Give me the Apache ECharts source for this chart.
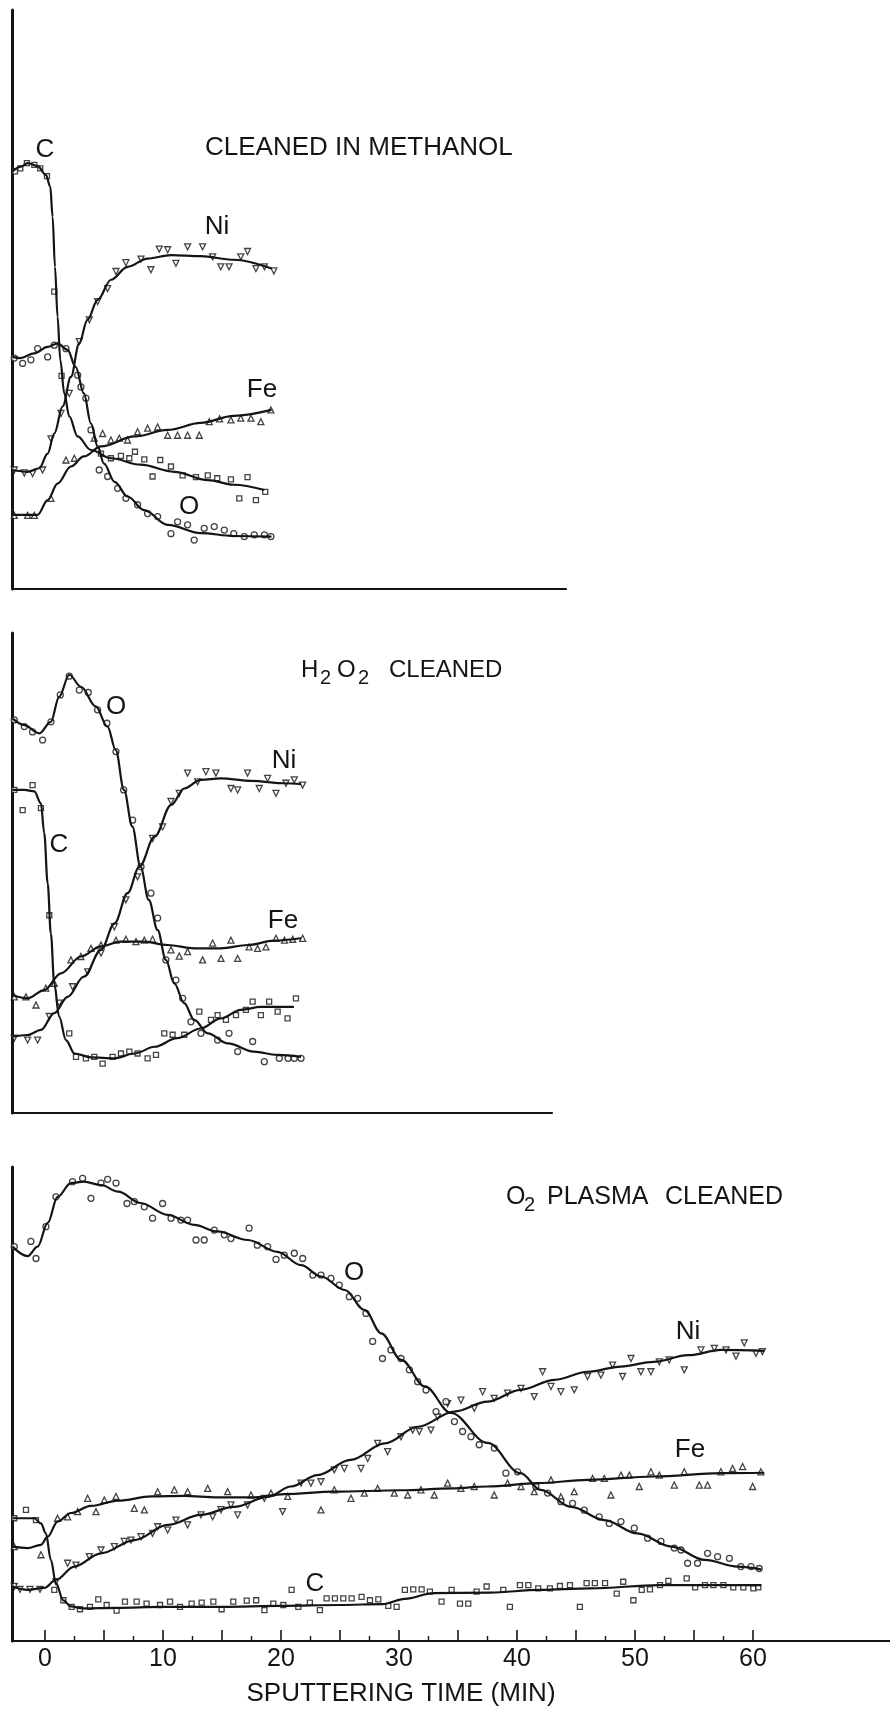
<!DOCTYPE html>
<html><head><meta charset="utf-8">
<script src="https://cdn.jsdelivr.net/npm/echarts@6/dist/echarts.min.js"></script>
<style>html,body{margin:0;padding:0;background:#fff}#c{width:890px;height:1710px}</style>
</head><body><div id="c"></div>
<script>
// ---------- tick values (bottom panel) ----------
const majorTicks = [0,5,10,15,20,25,30,35,40,45,50,55,60];
const minorTicks = [2.5,7.5,12.5,17.5,22.5,27.5,32.5,37.5,42.5,47.5,52.5,57.5];
const tickLabels = [0,10,20,30,40,50,60];

// ---------- Panel 1: cleaned in methanol (time min, intensity a.u.) ----------
const p1C = [[-2.75,70.9],[-2.03,71.7],[-1.47,72.3],[-0.62,71.8],[0.08,70.3],[0.45,68.3],[0.65,63.2],[0.85,54.7],[1.07,46.2],[1.3,38.9],[1.64,33.2],[2.06,29.3],[2.77,25.9],[3.9,23.6],[5.6,22.2],[8.1,21.1],[10.96,19.9],[13.8,18.5],[16.0,17.7],[18.6,16.8]];
const p1Ni = [[-2.75,20.2],[-1.47,19.9],[-0.48,20.5],[0.23,23.0],[0.79,26.4],[1.5,31.0],[2.2,36.0],[2.9,41.7],[3.6,45.7],[4.47,49.1],[5.6,52.5],[7.0,54.7],[8.7,56.1],[10.7,56.7],[13.2,56.5],[16.0,55.9],[19.2,54.4]];
const p1Fe = [[-2.75,12.6],[-1.75,12.6],[-0.62,12.6],[0.23,15.1],[1.07,17.9],[2.2,20.8],[3.3,22.5],[4.75,24.2],[7.6,25.9],[10.4,27.0],[13.2,28.2],[16.0,29.4],[19.2,30.4]];
const p1O = [[-2.75,39.4],[-2.1,39.2],[-0.9,40.0],[0.23,41.1],[1.07,41.7],[1.92,40.6],[2.6,37.7],[3.3,33.2],[3.9,28.1],[4.47,24.2],[5.0,21.3],[5.9,18.2],[7.0,15.7],[8.4,13.4],[10.4,10.9],[13.2,9.5],[16.0,9.0],[19.2,8.9]];
const p1CPts = [[-2.54,70.9],[-2.09,71.4],[-1.53,72.3],[-0.9,72.0],[-0.4,71.4],[0.17,70.1],[0.79,50.5],[1.41,36.2],[4.75,23.0],[5.59,22.2],[6.44,22.6],[7.15,22.2],[7.63,23.3],[8.42,22.0],[9.12,19.1],[9.77,21.9],[10.68,20.8],[11.67,19.3],[12.8,19.0],[13.8,19.3],[14.6,18.8],[15.76,18.6],[17.17,19.0],[16.47,15.4],[17.88,15.1],[18.67,16.5]];
const p1NiPts = [[-2.6,20.2],[-1.75,19.7],[-1.05,19.6],[-0.2,20.2],[0.51,25.5],[1.36,29.8],[2.06,33.2],[2.91,42.0],[3.76,45.7],[4.46,48.8],[5.31,51.0],[6.02,53.9],[6.86,55.4],[8.14,56.0],[8.98,54.2],[9.69,57.7],[10.4,57.6],[11.1,55.3],[12.09,58.1],[13.36,58.1],[14.21,56.4],[14.9,54.7],[15.6,54.7],[16.6,56.4],[17.17,57.3],[17.88,54.4],[18.6,54.7],[19.4,54.0]];
const p1FePts = [[-2.6,12.5],[-1.47,12.5],[-0.9,12.5],[0.51,15.4],[1.78,21.9],[2.49,22.2],[4.18,25.6],[4.89,26.4],[5.59,25.3],[6.3,25.6],[7.0,25.3],[7.85,26.7],[8.7,27.3],[9.55,27.5],[10.4,26.1],[11.24,26.1],[12.09,26.1],[13.08,26.1],[13.93,28.4],[14.8,28.9],[15.76,28.7],[16.6,29.0],[17.46,29.0],[18.3,28.4],[19.15,30.4]];
const p1OPts = [[-2.6,39.2],[-1.89,38.3],[-1.19,38.9],[-0.62,40.8],[0.23,39.4],[0.79,41.4],[1.78,40.8],[2.77,36.3],[3.05,34.3],[3.47,32.4],[3.9,27.0],[4.6,20.2],[5.31,19.1],[6.16,17.1],[6.86,15.4],[7.85,14.3],[8.7,12.8],[9.55,12.3],[10.68,9.4],[11.24,11.4],[12.09,10.9],[12.65,8.3],[13.5,10.3],[14.35,10.6],[15.2,10.0],[16.0,9.4],[16.9,8.9],[17.74,9.2],[18.6,9.2],[19.15,8.9]];

// ---------- Panel 2: H2O2 cleaned ----------
const p2O = [[-2.75,82.2],[-1.75,80.8],[-0.48,79.1],[0.5,81.5],[1.2,86.7],[2.06,91.3],[3.05,88.8],[4.3,84.7],[5.3,80.5],[6.0,75.6],[6.7,67.3],[7.4,59.7],[8.1,51.3],[8.8,44.4],[9.55,38.1],[10.25,31.9],[10.96,27.0],[11.8,22.9],[12.65,19.4],[13.8,16.6],[15.5,14.5],[17.7,12.8],[19.7,12.1],[21.7,11.7]];
const p2Ni = [[-2.75,15.9],[-1.47,16.25],[-0.34,17.3],[0.79,20.8],[1.92,24.2],[3.3,28.4],[4.75,34.0],[5.9,39.5],[7.0,45.8],[8.0,51.3],[9.3,57.6],[10.7,64.2],[11.8,67.6],[13.2,69.4],[14.9,69.7],[17.5,69.2],[20.3,68.7],[21.7,68.5]];
const p2Fe = [[-2.75,24.6],[-1.47,23.9],[-0.06,25.6],[1.36,29.1],[3.05,32.6],[4.75,34.7],[6.4,35.7],[8.4,35.7],[10.4,35.0],[12.65,34.3],[14.9,34.3],[17.2,35.0],[19.4,35.9],[21.7,36.4]];
const p2C = [[-2.75,67.3],[-1.75,67.3],[-0.9,67.0],[-0.34,64.5],[-0.06,58.3],[0.23,47.85],[0.5,37.4],[0.79,27.0],[1.2,20.1],[1.78,15.2],[2.5,12.4],[3.9,11.6],[5.9,11.4],[7.6,12.4],[9.3,13.8],[11.2,15.6],[13.2,17.6],[14.9,19.7],[16.6,21.5],[18.3,22.1],[21.1,22.1]];
const p2OPts = [[-2.6,81.9],[-1.75,80.5],[-1.05,79.4],[-0.2,77.7],[0.51,81.5],[1.3,87.1],[2.06,91.0],[2.91,88.1],[3.67,87.6],[4.46,84.0],[5.25,81.2],[6.02,75.3],[6.67,67.3],[7.43,61.0],[8.14,51.3],[8.98,45.8],[9.55,40.6],[10.25,31.9],[11.1,27.7],[11.67,23.9],[12.37,19.0],[13.22,16.6],[14.63,15.2],[15.6,16.6],[16.33,12.8],[17.6,14.9],[18.59,10.7],[19.86,11.4],[20.6,11.4],[21.13,11.4],[21.7,11.4]];
const p2NiPts = [[-2.6,15.6],[-1.47,15.2],[-0.62,15.2],[0.37,20.1],[1.21,22.9],[2.34,26.3],[3.62,29.4],[4.75,33.3],[5.88,38.8],[6.86,44.4],[7.85,49.2],[9.12,57.2],[9.97,59.6],[10.68,64.9],[11.38,66.6],[12.09,70.8],[12.94,69.0],[13.64,71.1],[14.49,70.8],[15.76,67.6],[16.33,67.3],[17.17,70.8],[18.16,67.6],[18.87,69.7],[19.58,66.6],[20.42,68.7],[21.13,69.4],[21.84,68.3]];
const p2FePts = [[-2.6,24.2],[-1.61,24.2],[-0.76,22.5],[0.08,26.0],[0.79,27.0],[2.2,31.9],[3.05,32.6],[3.9,34.3],[4.75,35.0],[6.02,36.0],[6.86,36.2],[7.71,35.7],[8.42,36.0],[9.12,36.2],[10.68,34.0],[11.38,32.7],[12.09,33.6],[13.36,31.9],[14.21,35.4],[14.92,32.2],[15.76,36.0],[16.33,32.2],[17.3,34.6],[18.02,34.3],[18.73,34.6],[19.58,36.4],[20.3,36.0],[21.0,36.2],[21.84,36.4]];
const p2CPts = [[-2.6,67.3],[-1.89,63.1],[-1.05,68.3],[-0.34,63.5],[0.37,41.2],[2.06,16.6],[2.63,11.7],[3.47,11.4],[4.18,11.7],[4.89,10.3],[5.73,11.7],[6.44,12.4],[7.15,12.8],[7.85,12.4],[8.7,11.4],[9.41,12.1],[10.11,16.6],[10.82,16.3],[11.81,16.3],[13.08,21.1],[14.07,19.4],[14.63,20.4],[15.34,19.4],[16.19,20.4],[17.03,21.5],[17.6,23.2],[18.3,20.4],[19.0,23.2],[19.72,21.1],[20.56,19.7],[21.27,23.9]];

// ---------- Panel 3: O2 plasma cleaned ----------
const p3O = [[-2.75,83.2],[-1.47,81.2],[-0.62,83.2],[0.23,88.2],[1.07,93.7],[2.2,96.6],[3.3,96.9],[4.75,96.2],[6.2,94.8],[8.1,92.4],[10.4,89.9],[12.65,87.8],[14.6,86.4],[17.2,84.6],[19.7,82.1],[21.7,79.3],[23.4,76.9],[25.4,74.05],[27.1,69.8],[28.5,64.9],[30.2,59.3],[32.2,53.7],[34.4,48.1],[37.5,41.8],[40.3,35.4],[42.0,31.9],[44.6,28.3],[47.4,25.5],[50.2,22.7],[53.1,19.9],[55.9,17.1],[58.7,15.7],[60.7,15.1]];
const p3Ni = [[-2.75,11.5],[-1.47,10.8],[-0.06,11.2],[0.93,12.9],[2.48,15.7],[4.75,18.5],[7.6,21.3],[10.4,24.5],[13.2,26.6],[16.0,28.3],[18.9,30.4],[20.85,32.6],[23.1,35.0],[25.9,38.2],[28.8,41.7],[31.6,45.2],[34.7,48.4],[37.5,50.5],[40.3,53.0],[43.2,55.1],[46.0,56.8],[48.8,57.9],[51.6,58.9],[54.5,60.3],[57.3,61.4],[60.96,61.2]];
const p3Fe = [[-2.75,19.9],[-1.47,19.6],[-0.34,20.3],[0.23,22.0],[1.07,25.2],[2.2,27.0],[3.9,28.5],[6.2,29.6],[9.0,30.5],[11.8,30.6],[14.6,30.3],[17.5,30.3],[20.3,31.0],[24.5,31.5],[30.2,31.8],[34.5,32.2],[37.5,32.6],[41.75,33.3],[46.0,34.0],[51.6,34.7],[57.3,35.4],[60.96,35.5]];
const p3C = [[-2.75,25.9],[-0.9,25.9],[-0.34,24.8],[0.08,22.7],[0.5,17.1],[0.93,12.2],[1.55,8.6],[2.2,7.3],[3.2,6.9],[6,7.0],[10,7.2],[15,7.2],[20,7.4],[25,7.6],[28.6,7.8],[30.5,8.9],[32.9,10.1],[37.7,10.2],[41.9,10.8],[46.2,11.1],[52.1,11.8],[60.7,11.8]];
const p3OPts = [[-2.6,83.2],[-1.19,84.3],[-0.76,80.7],[0.08,87.4],[0.93,93.7],[2.34,96.9],[3.19,97.6],[3.9,93.4],[4.75,96.6],[5.31,97.4],[6.02,96.6],[6.95,92.3],[7.57,92.7],[8.42,91.6],[9.12,89.2],[9.97,92.3],[10.68,89.2],[11.52,88.8],[12.09,88.8],[12.8,84.6],[13.5,84.6],[14.35,86.7],[15.2,85.7],[15.76,84.9],[17.3,87.1],[18.0,83.5],[18.87,83.2],[19.58,80.5],[20.28,81.4],[21.13,81.8],[21.84,80.7],[22.7,77.2],[23.39,77.2],[24.24,76.5],[24.94,75.1],[25.79,72.65],[26.5,72.3],[27.2,69.1],[27.77,63.2],[28.6,59.6],[29.32,61.4],[30.17,59.6],[30.88,57.2],[31.58,54.7],[32.29,52.95],[33.14,48.4],[33.98,50.5],[34.7,46.3],[35.39,44.2],[36.1,43.1],[36.8,41.4],[38.08,40.7],[39.06,35.4],[40.05,35.7],[41.6,32.6],[42.6,31.2],[43.72,29.4],[44.71,29.05],[45.7,27.6],[46.97,26.2],[47.82,24.8],[48.81,25.2],[49.94,23.8],[51.07,21.7],[52.2,21.0],[53.33,19.6],[53.9,19.2],[54.46,16.4],[55.3,16.4],[56.15,18.5],[57.0,17.8],[58.0,17.45],[58.97,15.7],[59.83,15.7],[60.53,15.3]];
const p3NiPts = [[-2.6,11.5],[-2.12,10.9],[-1.27,10.9],[-0.42,10.9],[0.93,12.5],[1.92,16.4],[2.63,16.0],[3.76,17.8],[4.75,19.2],[5.88,19.9],[6.72,21.0],[7.29,21.3],[8.14,22.0],[9.12,22.7],[9.55,24.1],[10.4,23.4],[11.1,25.5],[12.09,24.5],[13.22,26.6],[14.21,26.2],[14.92,27.7],[15.76,28.7],[16.33,26.6],[17.17,28.7],[18.59,30.1],[20.14,27.3],[21.7,33.3],[22.54,33.3],[23.39,33.6],[24.52,36.1],[25.37,36.4],[26.78,36.4],[27.35,38.5],[28.19,41.7],[29.04,39.95],[30.17,43.1],[31.16,44.5],[31.72,44.2],[32.71,44.5],[33.27,47.3],[34.12,50.1],[35.25,50.8],[36.38,49.1],[37.09,52.6],[38.07,51.2],[39.2,52.3],[40.34,53.3],[41.46,51.55],[42.17,56.8],[42.88,53.7],[43.72,52.6],[44.85,53.0],[45.98,55.8],[47.11,56.1],[48.1,58.2],[48.95,55.8],[49.66,59.6],[50.5,56.8],[51.35,56.8],[52.06,58.9],[52.9,59.3],[54.18,57.2],[55.59,61.4],[56.72,61.75],[57.71,61.4],[58.56,60.1],[59.26,62.9],[60.25,60.7],[60.8,61.05]];
const p3FePts = [[-2.6,19.9],[-0.34,18.2],[1.07,25.9],[1.92,26.2],[2.77,27.3],[3.62,30.1],[4.32,27.3],[5.03,29.75],[6.02,30.5],[7.57,28.0],[8.42,27.65],[9.55,31.5],[10.96,31.9],[12.09,31.5],[13.79,32.2],[15.48,31.5],[17.46,30.8],[19.15,31.2],[20.57,30.5],[23.39,27.65],[24.52,31.9],[25.93,30.1],[27.06,31.2],[28.19,32.2],[29.6,31.2],[30.74,30.8],[31.86,31.9],[32.99,30.8],[34.12,33.3],[35.25,32.2],[36.38,32.6],[38.07,30.8],[39.2,33.3],[40.34,32.6],[41.46,31.5],[42.88,34.0],[43.72,30.45],[44.85,31.5],[46.41,34.3],[47.4,34.3],[47.96,30.8],[48.81,35.0],[49.52,35.0],[50.36,32.6],[51.35,35.7],[52.06,35.0],[53.33,32.9],[54.18,35.7],[55.45,32.9],[56.15,32.9],[57.28,35.7],[58.27,36.4],[59.12,36.8],[59.97,32.6],[60.67,35.7]];
const p3CPts = [[-2.6,25.9],[-1.61,27.65],[-0.76,25.5],[0.79,10.8],[1.56,8.6],[2.26,7.2],[2.97,6.7],[3.81,7.2],[4.52,8.8],[5.23,7.6],[6.07,6.4],[6.78,8.3],[7.77,8.3],[8.61,7.9],[9.75,7.6],[10.6,8.3],[11.44,7.2],[12.43,7.9],[13.28,8.1],[14.27,8.3],[14.97,6.7],[15.96,8.3],[17.1,8.5],[17.9,8.6],[18.6,6.5],[19.35,7.9],[20.2,7.6],[20.9,10.8],[21.47,7.2],[22.45,8.1],[23.3,6.5],[23.87,9.0],[24.57,9.0],[25.28,9.0],[25.99,9.0],[26.83,9.3],[27.54,8.6],[28.25,8.8],[29.09,7.4],[29.8,7.2],[30.5,10.8],[31.21,10.9],[31.92,10.9],[32.62,10.4],[33.61,8.3],[34.46,10.8],[35.17,7.9],[35.87,7.9],[36.58,10.4],[37.43,11.5],[38.84,10.8],[39.4,7.2],[40.25,11.8],[40.96,11.8],[41.8,11.1],[42.79,11.1],[43.64,11.6],[44.49,11.8],[45.33,7.2],[45.9,12.2],[46.6,12.2],[47.46,12.2],[48.45,10.0],[49.0,12.5],[49.86,8.6],[50.57,10.8],[51.27,10.9],[52.12,11.8],[52.83,12.7],[54.38,13.2],[55.1,11.3],[55.93,11.8],[56.64,11.8],[57.49,11.8],[58.33,11.3],[59.18,11.3],[60.03,11.1],[60.45,11.3]];

// ---------- chart ----------
const INK = '#141414';
const FONT = "'Liberation Sans', Arial, sans-serif";
const chart = echarts.init(document.getElementById('c'), null, {renderer: 'canvas'});

function curve(data, xi, yi) {
  return {type: 'line', data, xAxisIndex: xi, yAxisIndex: yi, smooth: 0.35, smoothMonotone: 'x',
    showSymbol: false, silent: true, animation: false, clip: false,
    lineStyle: {color: INK, width: 2.2}};
}
function pts(data, xi, yi, symbol, size, rot) {
  return {type: 'scatter', data, xAxisIndex: xi, yAxisIndex: yi, symbol, symbolSize: size,
    symbolRotate: rot || 0, silent: true, animation: false,
    itemStyle: {color: '#fff', borderColor: INK, borderWidth: 1.3}};
}
const hidden = {show: false};
function baseX(grid, max, lineShow) {
  return {type: 'value', gridIndex: grid, min: -2.75, max, position: 'bottom',
    axisLine: {show: lineShow, onZero: false, lineStyle: {color: INK, width: 2.2}},
    axisTick: hidden, axisLabel: hidden, splitLine: hidden};
}
function baseY(grid, max) {
  return {type: 'value', gridIndex: grid, min: 0, max,
    axisLine: {show: true, onZero: false, lineStyle: {color: INK, width: 3}},
    axisTick: hidden, axisLabel: hidden, splitLine: hidden};
}
const x3 = baseX(2, 71.61, true);
x3.axisTick = {show: true, inside: true, length: 11, customValues: majorTicks, lineStyle: {color: INK, width: 1.6}};
x3.axisLabel = {show: true, customValues: tickLabels, margin: 6, color: INK, fontSize: 25, fontFamily: FONT};
const x3minor = baseX(2, 71.61, false);
x3minor.axisTick = {show: true, inside: true, length: 5, customValues: minorTicks, lineStyle: {color: INK, width: 1.4}};

function txt(t, x, y, size, align) {
  return {type: 'text', x, y, silent: true,
    style: {text: t, fill: INK, fontSize: size || 26, fontFamily: FONT,
      align: align || 'center', verticalAlign: 'middle'}};
}

chart.setOption({
  animation: false,
  backgroundColor: '#fff',
  grid: [
    {left: 12.5, top: 10, width: 553.5, height: 579},
    {left: 12.5, top: 633, width: 539.5, height: 480},
    {left: 12.5, top: 1167, width: 877.5, height: 474}
  ],
  xAxis: [baseX(0, 44.16, true), baseX(1, 42.97, true), x3, x3minor],
  yAxis: [baseY(0, 98.3), baseY(1, 100), baseY(2, 100)],
  series: [
    curve(p1C, 0, 0), curve(p1Ni, 0, 0), curve(p1Fe, 0, 0), curve(p1O, 0, 0),
    pts(p1CPts, 0, 0, 'rect', 5), pts(p1NiPts, 0, 0, 'triangle', 6, 180),
    pts(p1FePts, 0, 0, 'triangle', 6), pts(p1OPts, 0, 0, 'circle', 6),
    curve(p2O, 1, 1), curve(p2Ni, 1, 1), curve(p2Fe, 1, 1), curve(p2C, 1, 1),
    pts(p2CPts, 1, 1, 'rect', 5), pts(p2NiPts, 1, 1, 'triangle', 6, 180),
    pts(p2FePts, 1, 1, 'triangle', 6), pts(p2OPts, 1, 1, 'circle', 6),
    curve(p3O, 2, 2), curve(p3Ni, 2, 2), curve(p3Fe, 2, 2), curve(p3C, 2, 2),
    pts(p3CPts, 2, 2, 'rect', 5), pts(p3NiPts, 2, 2, 'triangle', 6, 180),
    pts(p3FePts, 2, 2, 'triangle', 6), pts(p3OPts, 2, 2, 'circle', 6)
  ],
  graphic: [
    txt('CLEANED IN METHANOL', 205, 148, 26, 'left'),
    txt('C', 45, 150), txt('Ni', 217, 227), txt('Fe', 262, 390), txt('O', 189, 507),
    txt('H', 301, 670, 24, 'left'), txt('2', 320, 678, 20, 'left'),
    txt('O', 337, 670, 24, 'left'), txt('2', 358, 678, 20, 'left'),
    txt('CLEANED', 389, 670, 24, 'left'),
    txt('O', 116, 707), txt('Ni', 284, 761), txt('C', 59, 845), txt('Fe', 283, 921),
    txt('O', 506, 1197, 25, 'left'), txt('2', 524, 1205, 20, 'left'),
    txt('PLASMA', 547, 1197, 25, 'left'), txt('CLEANED', 665, 1197, 25, 'left'),
    txt('O', 354, 1273), txt('Ni', 688, 1332), txt('Fe', 690, 1450), txt('C', 315, 1584),
    txt('SPUTTERING TIME (MIN)', 401, 1694, 26)
  ]
});
</script></body></html>
